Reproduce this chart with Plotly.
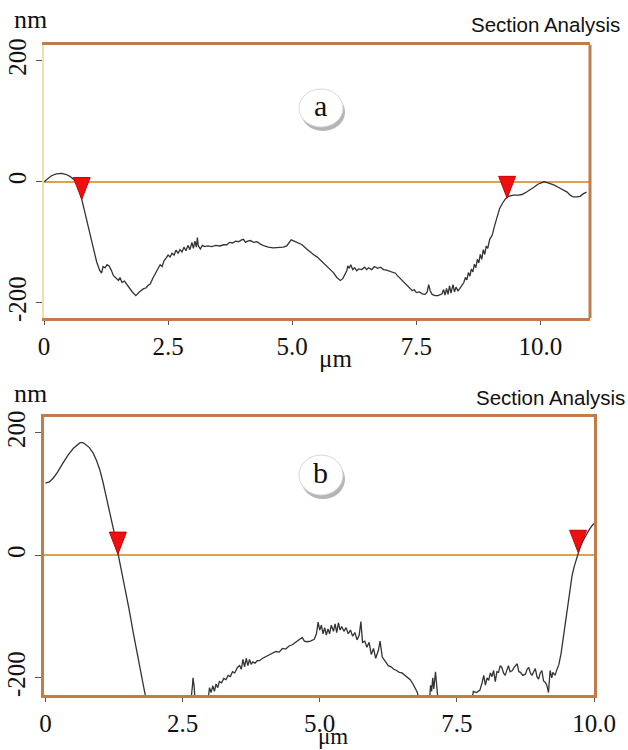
import plotly.graph_objects as go

# ---------------- data ----------------
# Profile (a): position in um, height in nm
a_x = [0.00, 0.08, 0.15, 0.25, 0.36, 0.45, 0.52, 0.60, 0.66, 0.72, 0.76, 0.82, 0.88, 0.94, 1.00,
       1.06, 1.12, 1.16, 1.19, 1.23, 1.27, 1.31, 1.35, 1.40, 1.45, 1.50, 1.53, 1.57, 1.62, 1.67,
       1.72, 1.78, 1.85, 1.92, 2.00, 2.06, 2.10, 2.14, 2.20, 2.26, 2.31, 2.34, 2.38, 2.42, 2.46,
       2.50, 2.54, 2.58, 2.62, 2.66, 2.70, 2.74, 2.78, 2.82, 2.86, 2.90, 2.94, 2.98, 3.01, 3.04,
       3.07, 3.09, 3.11, 3.15, 3.19, 3.24, 3.30, 3.38, 3.46, 3.54, 3.62, 3.68, 3.74, 3.80, 3.86,
       3.92, 3.98, 4.02, 4.06, 4.10, 4.16, 4.22, 4.29, 4.36, 4.44, 4.52, 4.62, 4.72, 4.82, 4.89,
       4.94, 4.98, 5.04, 5.12, 5.20, 5.28, 5.36, 5.44, 5.50, 5.58, 5.66, 5.74, 5.83, 5.90, 5.97,
       6.02, 6.07, 6.10, 6.12, 6.15, 6.18, 6.22, 6.26, 6.30, 6.34, 6.40, 6.46, 6.50, 6.54, 6.60,
       6.66, 6.72, 6.78, 6.84, 6.90, 6.96, 7.02, 7.08, 7.12, 7.18, 7.24, 7.30, 7.36, 7.42, 7.46,
       7.50, 7.56, 7.62, 7.68, 7.72, 7.75, 7.78, 7.82, 7.88, 7.94, 7.98, 8.02, 8.05, 8.08, 8.11,
       8.14, 8.17, 8.20, 8.24, 8.27, 8.30, 8.34, 8.38, 8.42, 8.46, 8.49, 8.52, 8.55, 8.58, 8.61,
       8.64, 8.67, 8.70, 8.73, 8.76, 8.79, 8.82, 8.85, 8.88, 8.91, 8.94, 8.98, 9.03, 9.08, 9.13,
       9.18, 9.24, 9.30, 9.36, 9.46, 9.56, 9.63, 9.70, 9.78, 9.87, 9.95, 10.02, 10.07, 10.12, 10.20,
       10.27, 10.36, 10.45, 10.54, 10.60, 10.66, 10.74, 10.80, 10.86, 10.93]
a_y = [0, 5, 10, 13, 14, 12, 9, 4, 0, -15, -29, -50, -72, -95, -115,
       -132, -146, -151, -140, -142, -137, -139, -145, -155, -159, -163, -158, -166, -164, -170,
       -176, -182, -188, -182, -177, -175, -171, -169, -158, -148, -142, -137, -140, -130, -126,
       -121, -124, -118, -121, -113, -118, -112, -116, -108, -114, -105, -112, -100, -110, -98,
       -108, -92, -106, -111, -105, -107, -106, -107, -105, -106, -104, -104, -100, -101, -98,
       -99, -96, -95, -100, -98, -97, -100, -99, -103, -106, -108, -109, -109, -108, -106,
       -100, -96, -98, -101, -104, -110, -116, -121, -124, -130, -137, -143, -150, -158, -163,
       -160, -152, -147, -139, -143, -137, -145, -142, -147, -144, -145, -141, -145, -142, -145,
       -140, -143, -141, -145, -146, -148, -150, -151, -155, -160, -165, -170, -176, -180, -178,
       -183, -182, -185, -186, -182, -170, -180, -186, -188, -188, -187, -185, -178, -187, -176,
       -186, -172, -184, -170, -182, -174, -180, -176, -170, -166, -158, -162, -150, -156, -144,
       -149, -136, -142, -128, -134, -120, -128, -112, -120, -106, -110, -95, -88, -72, -57,
       -44, -35, -28, -24, -22, -22, -21, -18, -14, -9, -4, -1, 0, -1, -3,
       -5, -9, -13, -17, -22, -25, -25, -24, -20, -17]

# Profile (b): position in um, height in nm (flat parts are below the lower plot limit)
b_x = [0.00, 0.07, 0.14, 0.22, 0.32, 0.42, 0.51, 0.58, 0.63, 0.68, 0.72, 0.80, 0.87, 0.93, 0.99,
       1.05, 1.11, 1.17, 1.23, 1.28, 1.32, 1.38, 1.45, 1.52, 1.60, 1.66, 1.72, 1.77, 1.81, 1.85,
       2.65, 2.68, 2.69, 2.71, 2.73, 2.96, 2.99, 3.02, 3.05, 3.08, 3.11, 3.14, 3.17, 3.21, 3.25,
       3.29, 3.33, 3.37, 3.41, 3.45, 3.50, 3.54, 3.57, 3.60, 3.63, 3.66, 3.69, 3.72, 3.75, 3.78,
       3.82, 3.86, 3.90, 3.96, 4.02, 4.08, 4.14, 4.20, 4.26, 4.32, 4.38, 4.44, 4.50, 4.56, 4.60,
       4.64, 4.68, 4.72, 4.77, 4.83, 4.90, 4.94, 4.97, 5.00, 5.03, 5.06, 5.09, 5.12, 5.15, 5.18,
       5.21, 5.25, 5.28, 5.31, 5.34, 5.37, 5.40, 5.44, 5.48, 5.52, 5.56, 5.60, 5.64, 5.68, 5.72,
       5.75, 5.78, 5.82, 5.86, 5.90, 5.94, 5.98, 6.02, 6.07, 6.10, 6.14, 6.20, 6.25, 6.30, 6.35,
       6.40, 6.45, 6.50, 6.55, 6.60, 6.65, 6.70, 6.74, 6.78, 6.82, 7.00, 7.02, 7.04, 7.06, 7.08,
       7.11, 7.14, 7.16, 7.77, 7.80, 7.86, 7.92, 7.96, 7.99, 8.02, 8.05, 8.08, 8.11, 8.14, 8.17,
       8.20, 8.23, 8.26, 8.29, 8.32, 8.35, 8.38, 8.41, 8.44, 8.47, 8.51, 8.55, 8.60, 8.63, 8.66,
       8.70, 8.75, 8.78, 8.81, 8.84, 8.87, 8.90, 8.93, 8.96, 8.99, 9.02, 9.05, 9.08, 9.11, 9.14,
       9.17, 9.20, 9.23, 9.25, 9.29, 9.33, 9.36, 9.40, 9.44, 9.48, 9.52, 9.56, 9.60, 9.64, 9.68,
       9.71, 9.75, 9.80, 9.84, 9.90, 9.96, 10.00]
b_y = [118, 120, 126, 136, 151, 165, 175, 181, 184, 184, 182, 176, 167, 155, 140,
       119, 96, 72, 48, 26, 4, -22, -50, -86, -126, -156, -185, -206, -224, -240,
       -240, -212, -200, -214, -240, -240, -216, -224, -213, -222, -210, -216, -206, -208, -201,
       -203, -196, -198, -190, -192, -183, -180, -186, -170, -182, -168, -180, -170, -178, -174,
       -176, -172, -172, -168, -165, -162, -160, -157, -158, -152, -153, -148, -146, -142, -140,
       -136, -134, -140, -141, -140, -137, -128, -109, -122, -114, -128, -118, -130, -120, -128,
       -114, -124, -112, -126, -110, -122, -116, -124, -118, -128, -122, -132, -126, -138, -130,
       -108, -142, -140, -150, -142, -162, -152, -168, -155, -140, -166, -174, -180, -182, -186,
       -188, -191, -192, -196, -199, -203, -210, -216, -224, -240, -240, -212, -222, -200, -218,
       -190, -224, -240, -240, -222, -224, -220, -208, -196, -212, -200, -204, -192, -198, -188,
       -206, -190, -191, -180, -183, -192, -196, -186, -180, -190, -188, -182, -177, -190, -191,
       -196, -194, -186, -183, -192, -196, -190, -185, -198, -202, -192, -188, -205, -207, -212,
       -224, -188, -200, -191, -196, -185, -178, -160, -134, -104, -80, -55, -33, -18, -6,
       2, 14, 24, 31, 40, 48, 52]

# Cursor (red marker) positions: x in um, y of the marker tip in nm
a_cursor_x = [0.76, 9.33]
a_cursor_y = [-29, -27]
b_cursor_x = [1.32, 9.71]
b_cursor_y = [2, 5]

# Axis ticks
a_xticks = [0, 2.5, 5.0, 7.5, 10.0]
b_xticks = [0, 2.5, 5.0, 7.5, 10.0]
x_ticktext = ["0", "2.5", "5.0", "7.5", "10.0"]
y_ticks = [200, 0, -200]
y_ticktext = ["200", "0", "-200"]

panel_labels = ["a", "b"]
x_unit = "\u03bcm"
y_unit = "nm"
title_text = "Section Analysis"

# ---------------- styling ----------------
W, H = 628, 750
BORDER = "#c27b49"
PALE = "#eee0a6"
ZERO = "#d8a452"
CURVE = "#333333"
SERIF = "Liberation Serif, Times New Roman, serif"
SANS = "Liberation Sans, Arial, sans-serif"


def px(x):
    return x / W


def py(y):
    return 1 - y / H


def triangles(xs, ys, hw, h):
    tx, ty = [], []
    for cx, cy in zip(xs, ys):
        tx += [cx - hw, cx + hw, cx, cx - hw, None]
        ty += [cy + h, cy + h, cy, cy + h, None]
    return tx, ty


fig = go.Figure()

# panel a
fig.add_trace(go.Scatter(x=a_x, y=a_y, mode="lines", line=dict(color=CURVE, width=1.3),
                         xaxis="x", yaxis="y", showlegend=False, hoverinfo="skip"))
tx, ty = triangles(a_cursor_x, a_cursor_y, 0.17, 36)
fig.add_trace(go.Scatter(x=tx, y=ty, mode="lines", fill="toself", fillcolor="#ee1010",
                         line=dict(color="#c80000", width=1), xaxis="x", yaxis="y",
                         showlegend=False, hoverinfo="skip"))

# panel b
fig.add_trace(go.Scatter(x=b_x, y=b_y, mode="lines", line=dict(color=CURVE, width=1.3),
                         xaxis="x2", yaxis="y2", showlegend=False, hoverinfo="skip"))
tx, ty = triangles(b_cursor_x, b_cursor_y, 0.155, 36)
fig.add_trace(go.Scatter(x=tx, y=ty, mode="lines", fill="toself", fillcolor="#ee1010",
                         line=dict(color="#c80000", width=1), xaxis="x2", yaxis="y2",
                         showlegend=False, hoverinfo="skip"))

xcommon = dict(showgrid=False, zeroline=False, showline=True, mirror=True, automargin=False,
               linecolor=BORDER, linewidth=3, ticks="outside", ticklen=4,
               tickcolor="#555555", tickwidth=1,
               tickfont=dict(family=SERIF, size=25, color="#111111"))
ycommon = dict(showgrid=False, zeroline=True, zerolinecolor=ZERO, zerolinewidth=2,
               automargin=False,
               showline=True, ticks="outside", ticklen=6, tickcolor="#555555", tickwidth=1,
               tickangle=-90, tickfont=dict(family=SERIF, size=25, color="#111111"))

fig.update_layout(
    width=W, height=H,
    margin=dict(l=0, r=0, t=0, b=0, pad=0),
    autosize=False,
    paper_bgcolor="white",
    plot_bgcolor="white",
    xaxis=dict(domain=[px(44), px(590)], range=[0, 11.0], tickvals=a_xticks,
               ticktext=x_ticktext, anchor="y", **xcommon),
    yaxis=dict(domain=[py(318), py(45)], range=[-225, 226], tickvals=y_ticks,
               ticktext=y_ticktext, anchor="x", linecolor=PALE, linewidth=2, mirror=False,
               **ycommon),
    xaxis2=dict(domain=[px(44), px(594)], range=[-0.027, 10.0], tickvals=b_xticks,
                ticktext=x_ticktext, anchor="y2", **xcommon),
    yaxis2=dict(domain=[py(695), py(417)], range=[-228, 226], tickvals=y_ticks,
                ticktext=y_ticktext, anchor="x2", linecolor=BORDER, linewidth=3, mirror=True,
                **ycommon),
)

shapes = []
# right border of panel a
shapes.append(dict(type="line", xref="x domain", yref="y domain", x0=1, x1=1, y0=0, y1=1,
                   line=dict(color=BORDER, width=3)))
# label bubbles (shadow + bubble)
for (cx, cy, rx, ry) in [(321, 108, 22, 19), (321, 475, 22, 20)]:
    shapes.append(dict(type="circle", xref="paper", yref="paper",
                       x0=px(cx - rx + 2), x1=px(cx + rx + 2), y0=py(cy + ry + 4), y1=py(cy - ry + 4),
                       fillcolor="rgba(90,90,90,0.45)", line=dict(width=0)))
    shapes.append(dict(type="circle", xref="paper", yref="paper",
                       x0=px(cx - rx), x1=px(cx + rx), y0=py(cy + ry), y1=py(cy - ry),
                       fillcolor="white", line=dict(color="#d8d8d8", width=1)))
fig.update_layout(shapes=shapes)


def label(text, x, y, family, size, xanchor="center"):
    return dict(text=text, x=px(x), y=py(y), xref="paper", yref="paper",
                xanchor=xanchor, yanchor="middle", showarrow=False,
                font=dict(family=family, size=size, color="#111111"))


ann = []
for (yy, ux, uy, us) in [(20, 335, 358, 25), (393, 333, 736, 23)]:
    ann.append(label(y_unit, 30, yy, SERIF, 26))
    ann.append(label(x_unit, ux, uy, SERIF, us))
ann.append(label(title_text, 622, 24, SANS, 20.5, xanchor="right"))
ann.append(label(title_text, 627, 397, SANS, 20.5, xanchor="right"))
ann.append(label(panel_labels[0], 320, 106, SERIF, 30))
ann.append(label(panel_labels[1], 320, 472, SERIF, 30))
fig.update_layout(annotations=ann)

fig.write_html("out.html")
